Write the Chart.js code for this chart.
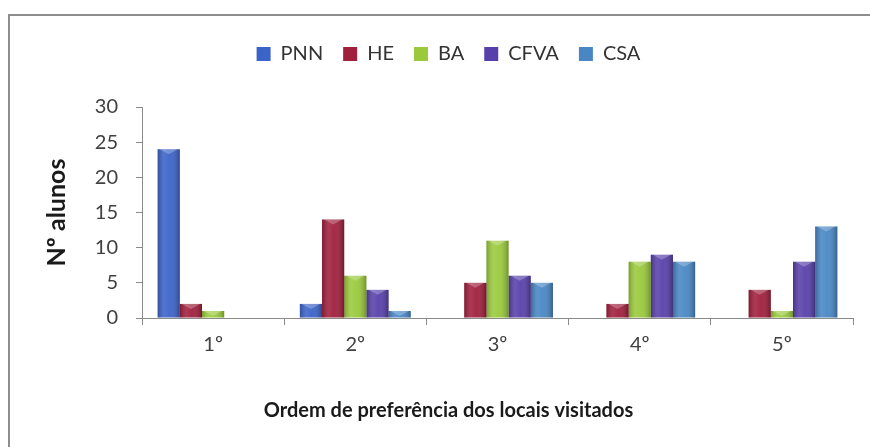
<!DOCTYPE html>
<html lang="pt">
<head>
  <meta charset="UTF-8">
  <title>Ordem de preferência dos locais visitados</title>
  <script src="https://cdn.jsdelivr.net/npm/chart.js"></script>
  <style>
    html, body {
      margin: 0;
      padding: 0;
      background: #ffffff;
    }
    .wrap {
      position: relative;
      width: 870px;
      height: 447px;
    }
    .frame {
      position: absolute;
      left: 8px;
      top: 14px;
      width: 900px;
      height: 500px;
      border-left: 2px solid #8d8d8d;
      border-top: 2px solid #8d8d8d;
      pointer-events: none;
    }
  </style>
</head>
<body>
  <div class="wrap">
    <canvas id="prefChart" width="870" height="447"></canvas>
    <div class="frame"></div>
  </div>

  <script>
    // dados
    const categories = ['1º', '2º', '3º', '4º', '5º'];
    const pnn = [24, 2, 0, 0, 0];
    const he = [2, 14, 5, 2, 4];
    const ba = [1, 6, 11, 8, 1];
    const cfva = [0, 4, 6, 9, 8];
    const csa = [0, 1, 5, 8, 13];
    const yTicks = [0, 5, 10, 15, 20, 25, 30];

    Chart.defaults.font.family = 'Lato, "Open Sans", sans-serif';

    // espaço extra por baixo da legenda
    const legendSpacer = {
      id: 'legendSpacer',
      beforeInit(chart) {
        const fit = chart.legend.fit;
        chart.legend.fit = function () {
          fit.call(this);
          this.height = 83;
        };
      }
    };

    // sombreado simples para dar volume às barras
    const barShade = {
      id: 'barShade',
      afterDatasetsDraw(chart) {
        const ctx = chart.ctx;
        chart.data.datasets.forEach((ds, i) => {
          const meta = chart.getDatasetMeta(i);
          meta.data.forEach(bar => {
            const h = bar.base - bar.y;
            if (h <= 0) return;
            const left = bar.x - bar.width / 2;
            const g = ctx.createLinearGradient(left, 0, left + bar.width, 0);
            g.addColorStop(0, 'rgba(0,0,0,0.22)');
            g.addColorStop(0.3, 'rgba(255,255,255,0.12)');
            g.addColorStop(0.55, 'rgba(255,255,255,0.05)');
            g.addColorStop(1, 'rgba(0,0,0,0.28)');
            ctx.save();
            ctx.fillStyle = g;
            ctx.fillRect(left, bar.y, bar.width, h);
            // reflexo no topo
            const t = Math.min(5, h);
            ctx.fillStyle = 'rgba(255,255,255,0.25)';
            ctx.beginPath();
            ctx.moveTo(left + 2, bar.y);
            ctx.lineTo(left + bar.width - 2, bar.y);
            ctx.lineTo(bar.x, bar.y + t);
            ctx.closePath();
            ctx.fill();
            ctx.restore();
          });
        });
      }
    };

    const ctx = document.getElementById('prefChart').getContext('2d');
    const prefChart = new Chart(ctx, {
      type: 'bar',
      data: {
        labels: categories,
        datasets: [
          { label: 'PNN', data: pnn, backgroundColor: '#3b63c8' },
          { label: 'HE', data: he, backgroundColor: '#a01f3d' },
          { label: 'BA', data: ba, backgroundColor: '#9aca3c' },
          { label: 'CFVA', data: cfva, backgroundColor: '#5840aa' },
          { label: 'CSA', data: csa, backgroundColor: '#4887c4' }
        ]
      },
      options: {
        responsive: false,
        animation: false,
        layout: {
          padding: { top: 24, left: 44, right: 17, bottom: 10 }
        },
        datasets: {
          bar: {
            categoryPercentage: 0.78,
            barPercentage: 1.0,
            borderWidth: 0
          }
        },
        plugins: {
          legend: {
            position: 'top',
            labels: {
              boxWidth: 14,
              boxHeight: 14,
              padding: 20,
              color: '#333333',
              font: { size: 20 }
            }
          },
          title: {
            display: true,
            position: 'bottom',
            text: 'Ordem de preferência dos locais visitados',
            color: '#1a1a1a',
            font: { size: 20, weight: 'bold', lineHeight: 1.2 },
            padding: { top: 0, bottom: 14 }
          },
          tooltip: { enabled: false }
        },
        scales: {
          x: {
            afterFit(scale) { scale.height = 81; },
            grid: {
              display: true,
              drawOnChartArea: false,
              drawTicks: true,
              tickLength: 7,
              color: '#8a8a8a'
            },
            border: { color: '#8a8a8a', width: 1 },
            ticks: {
              color: '#404040',
              padding: 8,
              font: { size: 20 }
            }
          },
          y: {
            min: 0,
            max: 30,
            afterFit(scale) { scale.width = 98; },
            afterBuildTicks(scale) {
              scale.ticks = yTicks.map(v => ({ value: v }));
            },
            grid: {
              display: true,
              drawOnChartArea: false,
              drawTicks: true,
              tickLength: 6,
              color: '#8a8a8a'
            },
            border: { color: '#8a8a8a', width: 1 },
            ticks: {
              color: '#404040',
              padding: 18,
              font: { size: 20 }
            },
            title: {
              display: true,
              text: 'Nº alunos',
              color: '#1a1a1a',
              font: { size: 25, weight: 'bold', lineHeight: 1 },
              padding: { top: 0, bottom: 0 }
            }
          }
        }
      },
      plugins: [legendSpacer, barShade]
    });
  </script>
</body>
</html>
